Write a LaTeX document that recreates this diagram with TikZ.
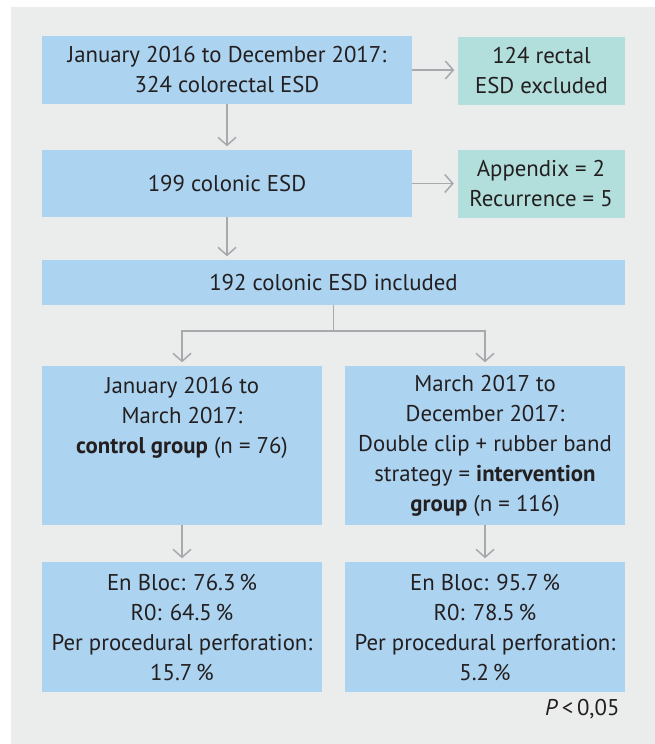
\documentclass[tikz,border=0pt]{standalone}
\usepackage{fontspec}
\setmainfont{PT Sans}
\usetikzlibrary{arrows.meta,positioning}

\definecolor{BoxBlue}{HTML}{ACD3F0}
\definecolor{BoxTeal}{HTML}{B2DFDC}
\definecolor{PanelGray}{HTML}{EBECEC}
\definecolor{ArrowGray}{HTML}{A7A9AC}
\definecolor{TextGray}{HTML}{231F20}

\begin{document}
\begin{tikzpicture}[x=1pt,y=-1pt]
		\tikzstyle{Box}		= [rectangle, fill=BoxBlue, text=TextGray, align=center, inner sep=0pt, font=\fontsize{22.8}{30}\selectfont]
		\tikzstyle{Excluded}	= [Box, fill=BoxTeal]
		\tikzstyle{Wide}	= [minimum width=370pt]
		\tikzstyle{Half}	= [minimum width=280pt]
		\tikzstyle{Side}	= [minimum width=167pt, minimum height=68pt]
		\tikzstyle{Flow}	= [-{Straight Barb[length=8pt,width=18pt]}, line width=1.5pt, ArrowGray, shorten >=3.5pt]
		\tikzstyle{Link}	= [line width=1.5pt, ArrowGray]

		\useasboundingbox (0,0) rectangle (655,744);
		\fill [PanelGray] (11,7) rectangle (655,744);

		\node (start) at (227,70) [Box][Wide, minimum height=68pt] {January 2016 to December 2017:\\324 colorectal ESD};
		\node (rectal) at (541.5,71) [Excluded][Side] {124 rectal\\ESD excluded};
		\node (colonic) at (227,183.5) [Box][Wide, minimum height=67pt] {199 colonic ESD};
		\node (other) at (541,184) [Excluded][Side] {Appendix = 2\\Recurrence = 5};
		\node (included) at (333.5,282.5) [Box][minimum width=583pt, minimum height=45pt] {192 colonic ESD included};

		% text kept on the top five lines, as in the right box
		\node (control) at (182,445.5) [Box][Half, minimum height=159pt] {January 2016 to\\March 2017:\\\textbf{control group} (n = 76)\\\mbox{}\\\mbox{}};
		\node (interv) at (485,445.5) [Box][Half, minimum height=159pt] {March 2017 to\\December 2017:\\Double clip + rubber band\\strategy = \textbf{intervention}\\\textbf{group} (n = 116)};
		\node (controlres) at (182,627) [Box][Half, minimum height=130pt] {En Bloc: 76.3\,\%\\R0: 64.5\,\%\\Per procedural perforation:\\15.7\,\%};
		\node (intervres) at (485,627) [Box][Half, minimum height=130pt] {En Bloc: 95.7\,\%\\R0: 78.5\,\%\\Per procedural perforation:\\5.2\,\%};

		\node (pval) at (623,709) [anchor=east, text=TextGray, font=\fontsize{22.8}{30}\selectfont] {\textit{P}\,<\,0,05};

		\coordinate (split) at (333.5,331);

		\draw [Flow] (start.east) -- (start.east -| rectal.west);
		\draw [Flow] (colonic.east) -- (colonic.east -| other.west);
		\draw [Flow] (start) -- (colonic);
		\draw [Flow] (colonic.south) -- (colonic.south |- included.north);
		\draw [Link] (included.south) -- (split);
		\draw [Flow] (split) -| (control.north);
		\draw [Flow] (split) -| (interv.north);
		\draw [Flow] (control) -- (controlres);
		\draw [Flow] (interv) -- (intervres);
	\end{tikzpicture}
\end{document}
